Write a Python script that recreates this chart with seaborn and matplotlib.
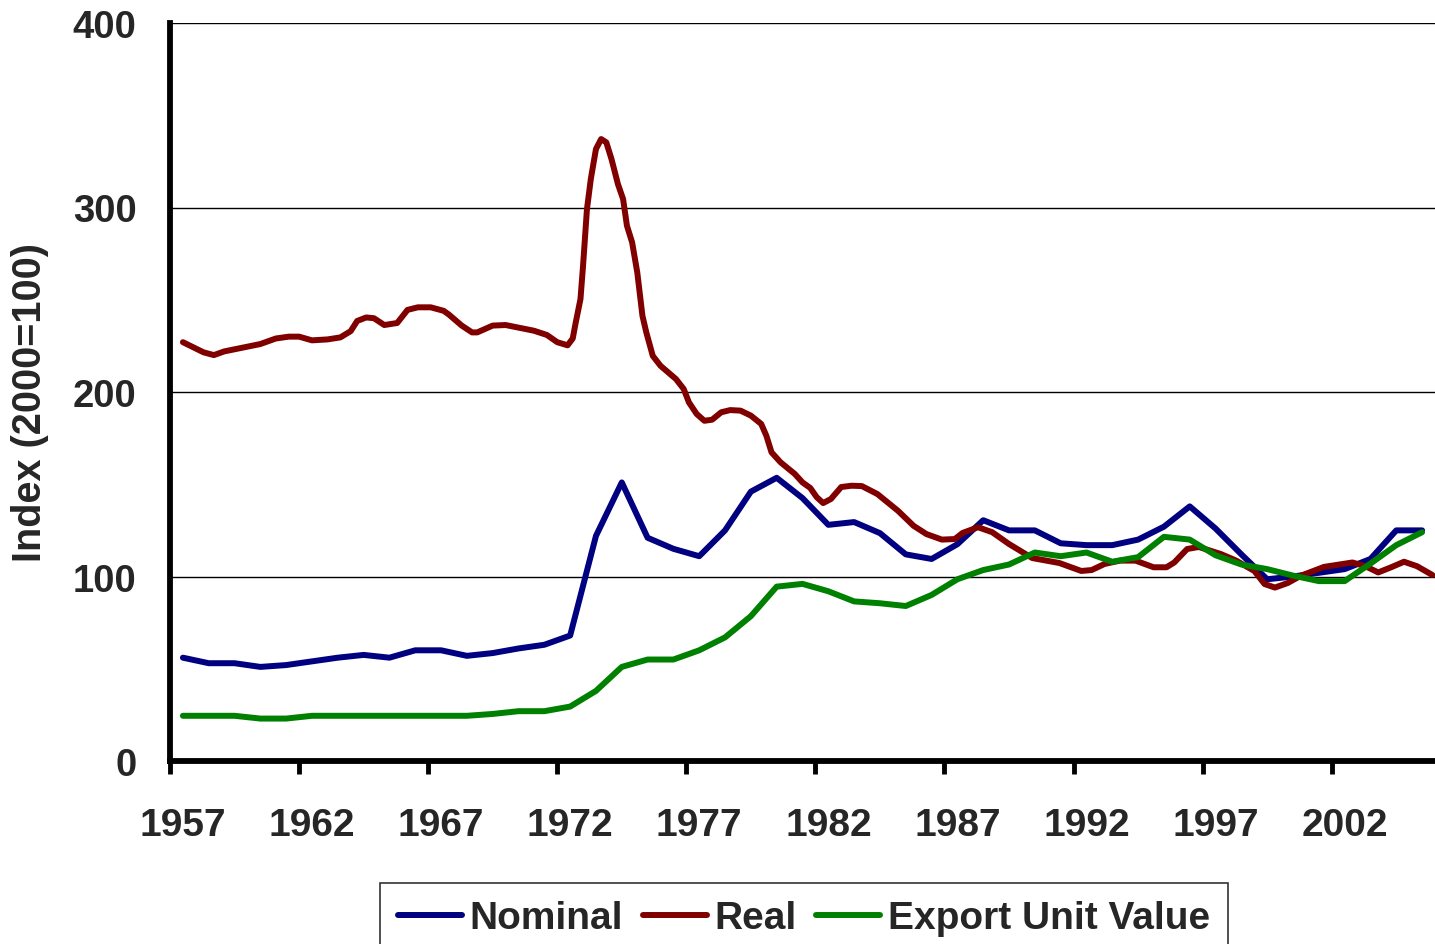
import numpy as np
import pandas as pd
import matplotlib
matplotlib.use("Agg")
import matplotlib.pyplot as plt
import seaborn as sns
from matplotlib.lines import Line2D

# ---------------- data ----------------
years = list(range(1957, 2006))
nominal = [56, 53, 53, 51, 52, 54, 56, 57.5, 56, 60,
           60, 57, 58.5, 61, 63, 68, 122, 151, 121, 115,
           111, 125, 146, 153.5, 142.5, 128, 129.5, 123.5, 112, 109.5,
           117.5, 130.5, 125, 125, 118, 117, 117, 120, 127, 138,
           126, 112, 98.5, 100, 102, 104, 109.5, 125, 125]
export_unit_value = [24.5, 24.5, 24.5, 23, 23, 24.5, 24.5, 24.5, 24.5, 24.5,
                     24.5, 24.5, 25.5, 27, 27, 29.5, 38, 51, 55, 55,
                     60, 67, 78.5, 94.5, 96, 92, 86.5, 85.5, 84, 90,
                     98.5, 103.5, 106.5, 113, 111, 113, 108, 110.5, 121.5, 120,
                     111.5, 106.5, 104, 100.5, 97.5, 97.5, 107, 117, 124]
real_time = [1957.0, 1957.8, 1958.2, 1958.6, 1960.0, 1960.6, 1961.1, 1961.5, 1962.0, 1962.6,
             1963.1, 1963.5, 1963.75, 1964.1, 1964.4, 1964.8, 1965.3, 1965.7, 1966.1, 1966.6,
             1967.1, 1967.3, 1967.8, 1968.2, 1968.4, 1969.0, 1969.5, 1970.6, 1971.1, 1971.5,
             1971.9, 1972.1, 1972.2, 1972.4, 1972.5, 1972.65, 1972.8, 1972.9, 1973.0, 1973.2,
             1973.4, 1973.6, 1973.7, 1973.85, 1974.05, 1974.2, 1974.4, 1974.6, 1974.8, 1974.95,
             1975.2, 1975.5, 1976.1, 1976.4, 1976.6, 1976.9, 1977.2, 1977.5, 1977.85, 1978.2,
             1978.6, 1979.0, 1979.4, 1979.6, 1979.8, 1980.15, 1980.7, 1981.0, 1981.3, 1981.55,
             1981.8, 1982.1, 1982.5, 1982.9, 1983.3, 1983.9, 1984.7, 1985.3, 1985.8, 1986.4,
             1986.9, 1987.2, 1987.8, 1988.35, 1989.0, 1989.9, 1990.95, 1991.8, 1992.2, 1992.7,
             1993.3, 1993.9, 1994.6, 1995.1, 1995.4, 1995.9, 1996.35, 1997.2, 1997.8, 1998.5,
             1998.9, 1999.3, 1999.8, 2000.3, 2001.2, 2002.3, 2002.8, 2003.3, 2003.8, 2004.3,
             2004.8, 2005.4]
real_values = [227, 221.5, 220, 222, 226, 229, 230, 230, 228, 228.5,
               229.6, 233, 238.5, 240.4, 240, 236.3, 237.4, 244.5, 245.9, 245.9,
               244, 242, 236, 232.3, 232.3, 236, 236.3, 233.2, 230.9, 227,
               225.3, 229, 236.5, 250.4, 268.5, 299, 315.4, 323.6, 331.7, 337.1,
               335.3, 326.3, 320.9, 312.7, 304.6, 290.1, 281.1, 264.8, 241.3, 232.3,
               219.6, 214.2, 207, 201.6, 194.4, 188.1, 184.4, 185, 189, 190.2,
               189.9, 187.2, 182.7, 176.3, 167.3, 161.9, 155.6, 151, 148, 143,
               139.8, 142, 148.5, 149.2, 149, 144.7, 135.6, 127.5, 123, 120,
               120.3, 123.6, 126.7, 124, 117.6, 110, 107.3, 103, 103.5, 106.8,
               108.6, 108.6, 105, 105, 107.6, 114.9, 116, 112.2, 108.6, 103,
               95.9, 94, 96.5, 100.4, 105.2, 107.6, 105.6, 102.2, 105, 108,
               105.6, 100.8]
series_names = ["Nominal", "Real", "Export Unit Value"]
series_colors = ["#000080", "#800000", "#008000"]
y_ticks = [0, 100, 200, 300, 400]
x_label_years = list(range(1957, 2006, 5))

# ---------------- frame ----------------
df = pd.concat([
    pd.DataFrame({"year": years, "value": nominal, "series": "Nominal"}),
    pd.DataFrame({"year": real_time, "value": real_values, "series": "Real"}),
    pd.DataFrame({"year": years, "value": export_unit_value, "series": "Export Unit Value"}),
], ignore_index=True)

sns.set_theme(style="white")
plt.rcParams["font.family"] = ["Liberation Sans", "DejaVu Sans"]
plt.rcParams["font.weight"] = "bold"

W, H = 1435, 945
LW = 4.3
fig = plt.figure(figsize=(W / 100, H / 100), dpi=100)
ax = fig.add_axes([170 / W, 1 - 762 / H, 1265 / W, 738 / H])

sns.lineplot(data=df, x="year", y="value", hue="series", hue_order=series_names,
             palette=dict(zip(series_names, series_colors)), estimator=None,
             linewidth=LW, ax=ax, legend=False)
for ln in ax.lines:
    ln.set_solid_capstyle("round")
    ln.set_solid_joinstyle("round")

ax.set_xlim(1956.5, 2005.5)
ax.set_ylim(0, 400)

# y grid
ax.set_yticks(y_ticks)
ax.yaxis.grid(True, color="black", linewidth=1.0)
ax.xaxis.grid(False)
ax.set_axisbelow(True)
ax.tick_params(axis="y", length=0, pad=24, labelsize=27.5)
for lab in ax.get_yticklabels():
    lab.set_fontweight("bold")

# x: tick marks at category boundaries, labels at category centres
ax.set_xticks([y - 0.5 for y in x_label_years])
ax.set_xticklabels([])
ax.set_xticks(x_label_years, minor=True)
ax.set_xticklabels([str(y) for y in x_label_years], minor=True)
ax.tick_params(axis="x", which="major", length=9, width=3.5, color="black", direction="out", bottom=True)
ax.tick_params(axis="x", which="minor", length=0, pad=33, labelsize=28)
for lab in ax.get_xticklabels(minor=True):
    lab.set_fontweight("bold")

for s in ["top", "right"]:
    ax.spines[s].set_visible(False)
for s in ["left", "bottom"]:
    ax.spines[s].set_visible(True)
    ax.spines[s].set_color("black")
    ax.spines[s].set_linewidth(4.2)

ax.set_xlabel("")
ax.set_ylabel("")
fig.text(30 / W, 1 - 402 / H, "Index (2000=100)", rotation=90, ha="center", va="center",
         fontsize=28.5, fontweight="bold")

# legend
handles = [Line2D([0], [0], color=c, linewidth=LW, solid_capstyle="round") for c in series_colors]
leg = fig.legend(handles, series_names, loc="upper center", bbox_to_anchor=(804 / W, 1 - 884 / H),
                 ncol=3, frameon=True, fancybox=False, prop={"size": 28, "weight": "bold"},
                 handlelength=1.65, handletextpad=0.2, columnspacing=0.5, borderpad=0.45,
                 borderaxespad=0)
leg.get_frame().set_edgecolor("black")
leg.get_frame().set_linewidth(1.2)

fig.savefig("out.png", dpi=100)
